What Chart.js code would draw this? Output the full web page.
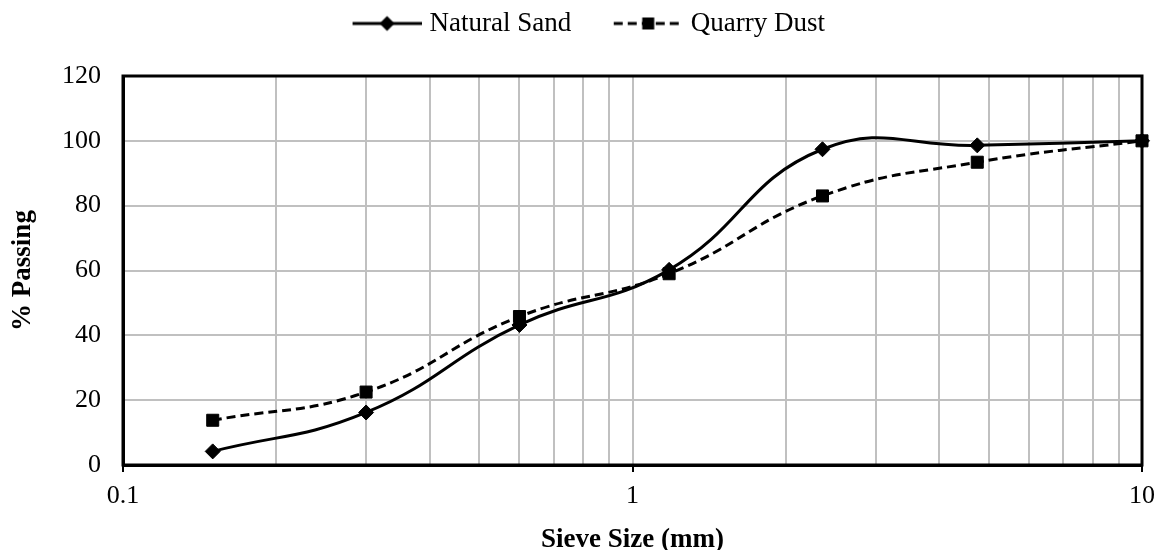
<!DOCTYPE html>
<html>
<head>
<meta charset="utf-8">
<script src="https://cdn.jsdelivr.net/npm/chart.js@4.4.0/dist/chart.umd.min.js"></script>
<style>
  html, body { margin: 0; padding: 0; background: #fff; }
</style>
</head>
<body>
<canvas id="gradationChart" width="1164" height="550"></canvas>
<script>
// Sieve analysis data
const sieveSizes = [0.15, 0.3, 0.6, 1.18, 2.36, 4.75, 10];
const naturalSand = [4.2, 16.2, 43.2, 60.2, 97.4, 98.6, 100];
const quarryDust = [13.8, 22.5, 45.8, 59, 83, 93.4, 100];
const seriesNames = ['Natural Sand', 'Quarry Dust'];
const xTickLabels = [0.1, 1, 10];
const yMin = 0, yMax = 120, yStep = 20;

const FONT = '"Liberation Serif", "Times New Roman", serif';
const GRID = '#c0c0c0';

// legend glyph: line with marker, drawn on a small canvas
function legendGlyph(dashed, marker) {
    const c = document.createElement('canvas');
    c.width = 107;
    c.height = 20;
    const g = c.getContext('2d');
    const x0 = 38, x1 = 107, cy = 10;
    g.strokeStyle = '#000';
    g.lineWidth = 3;
    g.setLineDash(dashed ? [9, 5] : []);
    g.beginPath();
    g.moveTo(x0, cy);
    g.lineTo(x1, cy);
    g.stroke();
    const mx = (x0 + x1) / 2;
    g.fillStyle = '#000';
    g.beginPath();
    if (marker === 'diamond') {
        g.moveTo(mx, cy - 7.5);
        g.lineTo(mx + 7.5, cy);
        g.lineTo(mx, cy + 7.5);
        g.lineTo(mx - 7.5, cy);
        g.closePath();
    } else {
        g.rect(mx - 6, cy - 6, 12, 12);
    }
    g.fill();
    return c;
}

const glyphs = [legendGlyph(false, 'diamond'), legendGlyph(true, 'square')];

// plot area frame
const frameBox = {
    id: 'frameBox',
    beforeDatasetsDraw(chart) {
        const { ctx, chartArea: a } = chart;
        ctx.save();
        ctx.strokeStyle = '#000';
        ctx.lineWidth = 3;
        ctx.strokeRect(a.left, a.top, a.right - a.left, a.bottom - a.top);
        ctx.restore();
    }
};

const toPoints = vals => sieveSizes.map((s, i) => ({ x: s, y: vals[i] }));

new Chart(document.getElementById('gradationChart'), {
    type: 'line',
    data: {
        datasets: [{
            label: seriesNames[0],
            data: toPoints(naturalSand),
            borderColor: '#000',
            borderWidth: 3,
            pointStyle: 'rectRot',
            pointRadius: 7.5,
            pointBackgroundColor: '#000',
            pointBorderColor: '#000',
            pointBorderWidth: 1,
            tension: 0.45,
            clip: false
        }, {
            label: seriesNames[1],
            data: toPoints(quarryDust),
            borderColor: '#000',
            borderWidth: 3,
            borderDash: [9, 5],
            pointStyle: 'rect',
            pointRadius: 8.5,
            pointBackgroundColor: '#000',
            pointBorderColor: '#000',
            pointBorderWidth: 1,
            tension: 0.45,
            clip: false
        }]
    },
    options: {
        responsive: false,
        animation: false,
        layout: { padding: { top: 0, left: 0, right: 19, bottom: 0 } },
        plugins: {
            tooltip: { enabled: false },
            legend: {
                position: 'top',
                labels: {
                    usePointStyle: true,
                    pointStyleWidth: 96,
                    padding: 10,
                    color: '#000',
                    font: { family: FONT, size: 27 },
                    generateLabels: chart => chart.data.datasets.map((ds, i) => ({
                        text: ds.label,
                        pointStyle: glyphs[i],
                        fillStyle: '#000',
                        strokeStyle: '#000',
                        lineWidth: 0,
                        hidden: false,
                        datasetIndex: i
                    }))
                }
            }
        },
        scales: {
            x: {
                type: 'logarithmic',
                position: 'bottom',
                min: 0.1,
                max: 10,
                afterFit: s => { s.height = 85; },
                afterBuildTicks: s => {
                    const vals = [];
                    [0.1, 1].forEach(dec => {
                        for (let m = 1; m <= 9; m++) vals.push(+(dec * m).toFixed(2));
                    });
                    vals.push(10);
                    s.ticks = vals.map(v => ({ value: v }));
                },
                ticks: {
                    autoSkip: false,
                    maxRotation: 0,
                    padding: 9,
                    color: '#000',
                    font: { family: FONT, size: 26 },
                    callback: v => xTickLabels.includes(v) ? String(v) : ''
                },
                grid: {
                    color: GRID,
                    lineWidth: 2,
                    drawTicks: true,
                    tickLength: 7,
                    tickWidth: 2,
                    tickColor: c => (c.tick && xTickLabels.includes(c.tick.value)) ? '#000' : 'rgba(0,0,0,0)'
                },
                border: { color: '#000', width: 3 },
                title: {
                    display: true,
                    text: 'Sieve Size (mm)',
                    color: '#000',
                    font: { family: FONT, size: 27, weight: 'bold', lineHeight: 1 },
                    padding: { top: 0, bottom: -3.5 }
                }
            },
            xTop: {
                type: 'linear',
                position: 'top',
                display: true,
                afterFit: s => { s.height = 29; },
                grid: { display: false, drawTicks: false },
                ticks: { display: false },
                border: { display: false }
            },
            y: {
                min: yMin,
                max: yMax,
                afterFit: s => { s.width = 123; },
                ticks: {
                    stepSize: yStep,
                    padding: 22,
                    color: '#000',
                    font: { family: FONT, size: 26 }
                },
                grid: { color: GRID, lineWidth: 2, drawTicks: false },
                border: { color: '#000', width: 3 },
                title: {
                    display: true,
                    text: '% Passing',
                    color: '#000',
                    font: { family: FONT, size: 27, weight: 'bold' },
                    padding: { top: 7, bottom: 0 }
                }
            }
        }
    },
    plugins: [frameBox]
});
</script>
</body>
</html>
